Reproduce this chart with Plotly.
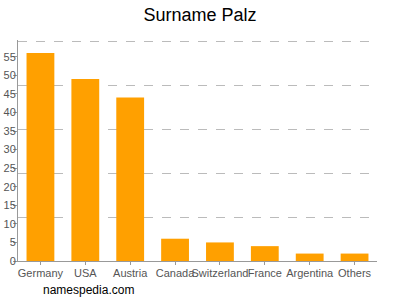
import plotly.graph_objects as go

countries = ["Germany", "USA", "Austria", "Canada", "Switzerland", "France", "Argentina", "Others"]
counts = [56, 49, 44, 6, 5, 4, 2, 2]
y_max = 59.2
grid_divisions = 5

font = "Liberation Sans, Arial, sans-serif"
fig = go.Figure()
fig.add_trace(go.Bar(x=countries, y=counts, marker=dict(color="#ffa000", line=dict(width=0)),
                     hoverinfo="x+y"))
# invisible trace to activate secondary y axis for dashed grid
fig.add_trace(go.Scatter(x=countries, y=counts, yaxis="y2", mode="markers",
                         marker=dict(opacity=0), hoverinfo="skip", showlegend=False))

fig.update_layout(
    width=400, height=300,
    margin=dict(l=18, r=23, t=40, b=39, autoexpand=False),
    paper_bgcolor="white", plot_bgcolor="white",
    showlegend=False,
    bargap=0.38,
    title=dict(text="Surname Palz", x=0.5, xanchor="center", y=0.95, yanchor="middle",
               font=dict(family=font, size=18, color="#000")),
    xaxis=dict(showline=True, linecolor="#999", linewidth=1, ticks="outside", ticklen=3,
               tickcolor="#999", tickangle=0, automargin=False, ticklabelstandoff=-1,
               tickfont=dict(family=font, size=11, color="#555"),
               showgrid=False, zeroline=False, fixedrange=True),
    yaxis=dict(range=[0, y_max + 0.3], dtick=5, showline=True, linecolor="#999", linewidth=1,
               ticks="outside", ticklen=4, tickcolor="#999", automargin=False,
               ticklabelstandoff=-5,
               tickfont=dict(family=font, size=11, color="#555"),
               showgrid=False, zeroline=False, fixedrange=True),
    yaxis2=dict(range=[0, y_max + 0.3], overlaying="y", side="right", showticklabels=False,
                tickvals=[y_max * i / grid_divisions for i in range(1, grid_divisions + 1)],
                showgrid=True, gridcolor="#bbb", griddash="dash", gridwidth=1,
                zeroline=False, showline=False, ticks="", automargin=False, fixedrange=True),
    annotations=[dict(text="namespedia.com", x=0.064, y=-0.131, xref="paper", yref="paper",
                      xanchor="left", yanchor="middle", showarrow=False,
                      font=dict(family=font, size=12, color="#000"))],
)
fig.write_html("out.html")
